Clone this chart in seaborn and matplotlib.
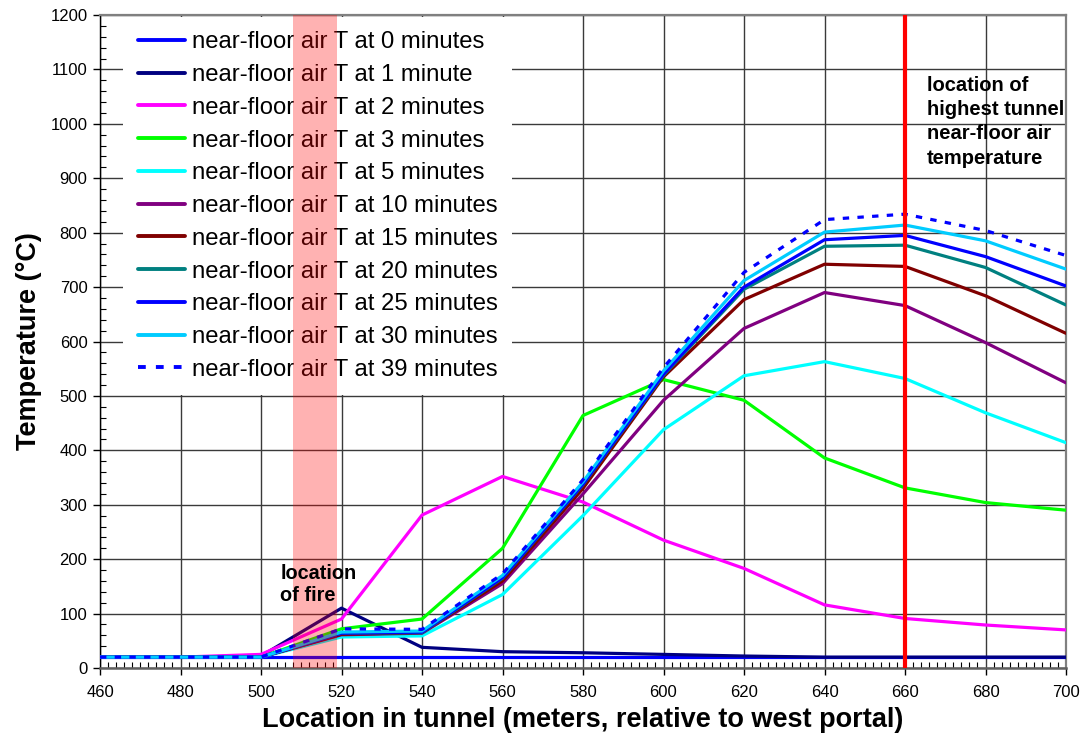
import matplotlib
matplotlib.use("Agg")
import matplotlib.pyplot as plt
from matplotlib.ticker import MultipleLocator
import numpy as np
import pandas as pd
import seaborn as sns

# ---------------- data ----------------
location = [460, 480, 500, 520, 540, 560, 580, 600, 620, 640, 660, 680, 700]

t0  = [20, 20, 20, 20, 20, 20, 20, 20, 20, 20, 20, 20, 20]
t1  = [20, 20, 22, 110, 38, 30, 28, 25, 22, 20, 20, 20, 20]
t2  = [20, 20, 25, 90, 281, 352, 305, 235, 183, 116, 91, 79, 70]
t3  = [20, 20, 20, 72, 90, 220, 464, 530, 492, 386, 331, 304, 290]
t5  = [20, 20, 20, 57, 59, 135, 280, 438, 537, 563, 532, 469, 414]
t10 = [20, 20, 20, 61, 64, 155, 320, 492, 624, 690, 666, 598, 524]
t15 = [20, 20, 20, 62, 65, 160, 330, 535, 677, 742, 738, 684, 615]
t20 = [20, 20, 20, 64, 65, 165, 337, 538, 696, 775, 777, 736, 667]
t25 = [20, 20, 20, 64, 66, 166, 338, 540, 700, 787, 795, 756, 702]
t30 = [20, 20, 20, 66, 68, 170, 342, 546, 712, 801, 814, 785, 733]
t39 = [20, 20, 20, 72, 71, 173, 346, 552, 727, 824, 834, 804, 758]

series_labels = [
    "near-floor air T at 0 minutes",
    "near-floor air T at 1 minute",
    "near-floor air T at 2 minutes",
    "near-floor air T at 3 minutes",
    "near-floor air T at 5 minutes",
    "near-floor air T at 10 minutes",
    "near-floor air T at 15 minutes",
    "near-floor air T at 20 minutes",
    "near-floor air T at 25 minutes",
    "near-floor air T at 30 minutes",
    "near-floor air T at 39 minutes",
]
series_values = [t0, t1, t2, t3, t5, t10, t15, t20, t25, t30, t39]
series_colors = ["#0000FF", "#000080", "#FF00FF", "#00FF00", "#00FFFF",
                 "#800080", "#800000", "#008080", "#0000FF", "#00CCFF", "#0000FF"]

fire_start, fire_end = 508, 519
peak_location = 660

x_label = "Location in tunnel (meters, relative to west portal)"
y_label = "Temperature (\u00b0C)"
fire_text = "location\nof fire"
peak_text = "location of\nhighest tunnel\nnear-floor air\ntemperature"

# ---------------- style ----------------
sns.set_theme(style="white")
plt.rcParams["font.family"] = ["Liberation Sans", "DejaVu Sans"]
plt.rcParams["text.color"] = "black"
plt.rcParams["axes.labelcolor"] = "black"
plt.rcParams["xtick.color"] = "black"
plt.rcParams["ytick.color"] = "black"

fig = plt.figure(figsize=(10.84, 7.48), dpi=100)
ax = fig.add_axes([100 / 1084, 1 - 668 / 748, 966 / 1084, 653 / 748])

for lab, vals, col in zip(series_labels, series_values, series_colors):
    dashed = lab.endswith("39 minutes")
    sns.lineplot(x=location, y=vals, ax=ax, color=col, linewidth=2.3,
                 label=lab, zorder=3)
    if dashed:
        ax.lines[-1].set_dashes((2.0, 2.6))

ax.set_xlim(460, 700)
ax.set_ylim(0, 1200)
ax.xaxis.set_major_locator(MultipleLocator(20))
ax.xaxis.set_minor_locator(MultipleLocator(2))
ax.yaxis.set_major_locator(MultipleLocator(100))
ax.yaxis.set_minor_locator(MultipleLocator(20))

ax.grid(True, which="major", color="#3a3a3a", linewidth=1.0, zorder=1)
ax.set_axisbelow(True)

ax.tick_params(axis="x", which="major", direction="out", length=5, width=1,
               color="black", labelcolor="black", labelsize=12, pad=7,
               bottom=True)
ax.tick_params(axis="y", which="major", direction="out", length=5, width=1,
               color="black", labelcolor="black", labelsize=12, pad=4,
               left=True)
ax.tick_params(axis="both", which="minor", direction="in", length=4, width=0.8,
               color="black", bottom=True, left=True)

for side in ["top", "right"]:
    ax.spines[side].set_color("#808080")
    ax.spines[side].set_linewidth(1.6)
ax.spines["left"].set_color("black")
ax.spines["left"].set_linewidth(1.0)
ax.spines["bottom"].set_color("#606060")
ax.spines["bottom"].set_linewidth(1.8)

# red vertical line at peak location
ax.axvline(peak_location, color="#FF0000", linewidth=3.0, zorder=4)

# legend with white background covering grid
leg = ax.legend(loc="upper left", bbox_to_anchor=(0.024, 0.997), fontsize=17.2,
                frameon=True, fancybox=False, framealpha=1.0,
                facecolor="white", edgecolor="none",
                handlelength=2.0, handletextpad=0.28, labelspacing=0.45,
                borderpad=0.6, borderaxespad=0)
for h in leg.get_lines():
    h.set_linewidth(2.8)
for t in leg.get_texts():
    t.set_color("black")
leg.set_zorder(5)

# fire region on top
ax.axvspan(fire_start, fire_end, color="#FF0000", alpha=0.3, linewidth=0, zorder=6)

ax.text(504.8, 191, fire_text, fontsize=14.3, fontweight="bold", va="top",
        ha="left", linespacing=1.2, zorder=7)
ax.text(665.5, 1088, peak_text, fontsize=14.5, fontweight="bold", va="top",
        ha="left", linespacing=1.35, zorder=7)

ax.set_xlabel(x_label, fontsize=19.5, fontweight="bold", labelpad=5)
ax.set_ylabel(y_label, fontsize=19.5, fontweight="bold", labelpad=6)

fig.savefig("out.png", dpi=100)
